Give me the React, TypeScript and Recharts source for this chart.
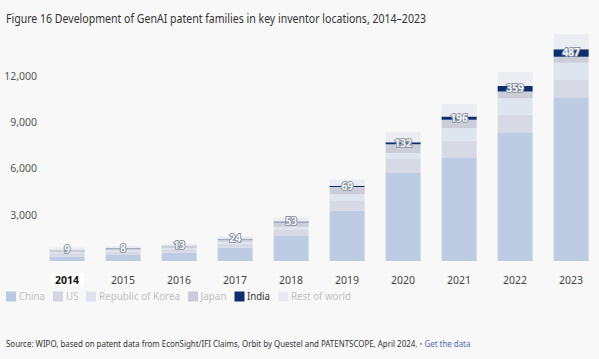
import React, { useLayoutEffect, useRef, useState } from 'react';
import { BarChart, Bar, XAxis, YAxis, LabelList } from 'recharts';

const years = ['2014', '2015', '2016', '2017', '2018', '2019', '2020', '2021', '2022', '2023'];
const china = [280, 390, 560, 860, 1620, 3260, 5720, 6740, 8360, 10630];
const us = [220, 210, 200, 280, 390, 690, 910, 1080, 1150, 1170];
const korea = [70, 80, 80, 110, 220, 390, 390, 820, 1060, 1080];
const japan = [170, 150, 130, 170, 280, 470, 560, 540, 430, 390];
const india = [9, 8, 13, 24, 53, 69, 132, 196, 359, 487];
const rest = [120, 130, 130, 170, 260, 410, 650, 820, 930, 970];
const yTicks = [3000, 6000, 9000, 12000];

const series = [
  { key: 'china', name: 'China', color: '#bdcce3', legend: '#b9c9e1' },
  { key: 'us', name: 'US', color: '#d7dae4', legend: '#d3d6e2' },
  { key: 'korea', name: 'Republic of Korea', color: '#dfe5ef', legend: '#dbe3ef' },
  { key: 'japan', name: 'Japan', color: '#cbced9', legend: '#c9ccd8' },
  { key: 'india', name: 'India', color: '#0b2f6e', legend: '#0d2f6d' },
  { key: 'rest', name: 'Rest of world', color: '#ecedf2', legend: '#e8e9ef' },
];

const data = years.map((year, i) => ({
  year,
  china: china[i],
  us: us[i],
  korea: korea[i],
  japan: japan[i],
  india: india[i],
  rest: rest[i],
}));

const font = '"Noto Sans", sans-serif';

const XTick = (props: any) => {
  const { x, y, payload } = props;
  const first = payload.value === '2014';
  return (
    <g>
      {first && <rect x={x - 17} y={y + 4} width={34} height={13} rx={3} fill="#ffffff" />}
      <text
        x={x}
        y={y + 14.5}
        textAnchor="middle"
        fontFamily={font}
        fontSize={10.5}
        fontWeight={first ? 700 : 400}
        fill={first ? '#111' : '#444'}
      >
        {payload.value}
      </text>
    </g>
  );
};

const YTick = (props: any) => {
  const { y, payload } = props;
  return (
    <text x={37} y={y + 3.8} textAnchor="end" fontFamily={font} fontSize={10.5} fill="#555">
      {payload.value.toLocaleString('en-US')}
    </text>
  );
};

const IndiaLabel = (props: any) => {
  const { x, y, width, height, value } = props;
  return (
    <text
      x={x + width / 2}
      y={y + height / 2 + 3.5}
      textAnchor="middle"
      fontFamily={font}
      fontSize={10}
      fontWeight={600}
      fill="#ffffff"
      stroke="#8a93a5"
      strokeWidth={2}
      paintOrder="stroke"
    >
      {value}
    </text>
  );
};

// squeezes a line of text horizontally so it spans `target` px from x
const FitText = ({ x, y, target, children, ...rest }: any) => {
  const ref = useRef<SVGTextElement>(null);
  const [s, setS] = useState(1);
  useLayoutEffect(() => {
    if (ref.current) {
      const w = ref.current.getComputedTextLength();
      if (w > 0) setS(target / w);
    }
  }, [target]);
  return (
    <g transform={`translate(${x},0) scale(${s},1)`}>
      <text ref={ref} x={0} y={y} {...rest}>
        {children}
      </text>
    </g>
  );
};

const legendPos = [
  { sq: 6, tx: 19, tw: 26 },
  { sq: 53, tx: 66, tw: 12.5 },
  { sq: 86, tx: 99, tw: 81 },
  { sq: 188, tx: 200.5, tw: 26 },
  { sq: 234.5, tx: 247, tw: 23 },
  { sq: 278.5, tx: 291, tw: 60 },
];

export default function App() {
  return (
    <div
      style={{
        position: 'fixed',
        left: 0,
        top: 0,
        width: 599,
        height: 359,
        background: '#f8f8f8',
        overflow: 'hidden',
        fontFamily: font,
      }}
    >
      <svg width={599} height={30} style={{ position: 'absolute', left: 0, top: 0 }}>
        <text x={6} y={23} fontFamily={font} fontSize={12.5} fill="#333" textLength={420} lengthAdjust="spacingAndGlyphs">
          Figure 16 Development of GenAI patent families in key inventor locations, 2014–2023
        </text>
      </svg>
      <div style={{ position: 'absolute', left: 0, top: 0 }}>
        <BarChart
          width={599}
          height={290}
          data={data}
          margin={{ top: 30, right: 0, left: 0, bottom: 0 }}
          barCategoryGap="19%"
        >
          <XAxis dataKey="year" axisLine={false} tickLine={false} height={29} interval={0} tick={<XTick />} />
          <YAxis
            domain={[0, 15000]}
            ticks={yTicks}
            width={39}
            axisLine={false}
            tickLine={false}
            tick={<YTick />}
          />
          {series.map((s) => (
            <Bar key={s.key} dataKey={s.key} name={s.name} stackId="a" fill={s.color} isAnimationActive={false}>
              {s.key === 'india' && <LabelList dataKey="india" content={<IndiaLabel />} />}
            </Bar>
          ))}
        </BarChart>
      </div>
      <svg width={599} height={25} style={{ position: 'absolute', left: 0, top: 284 }}>
        {series.map((s, i) => (
          <g key={s.key}>
            <rect x={legendPos[i].sq} y={7.5} width={10} height={10} fill={s.legend} />
            <text
              x={legendPos[i].tx}
              y={16}
              fontFamily={font}
              fontSize={11}
              fill={s.key === 'india' ? '#333' : '#c0c0c0'}
              textLength={legendPos[i].tw}
              lengthAdjust="spacingAndGlyphs"
            >
              {s.name}
            </text>
          </g>
        ))}
      </svg>
      <svg width={599} height={29} style={{ position: 'absolute', left: 0, top: 330 }}>
        <FitText x={6} y={17} target={465} fontFamily={font} fontSize={9.5} fill="#333">
          Source: WIPO, based on patent data from EconSight/IFI Claims, Orbit by Questel and PATENTSCOPE, April 2024.
          <tspan fill="#888"> • </tspan>
          <tspan fill="#4a6fb5">Get the data</tspan>
        </FitText>
      </svg>
    </div>
  );
}
